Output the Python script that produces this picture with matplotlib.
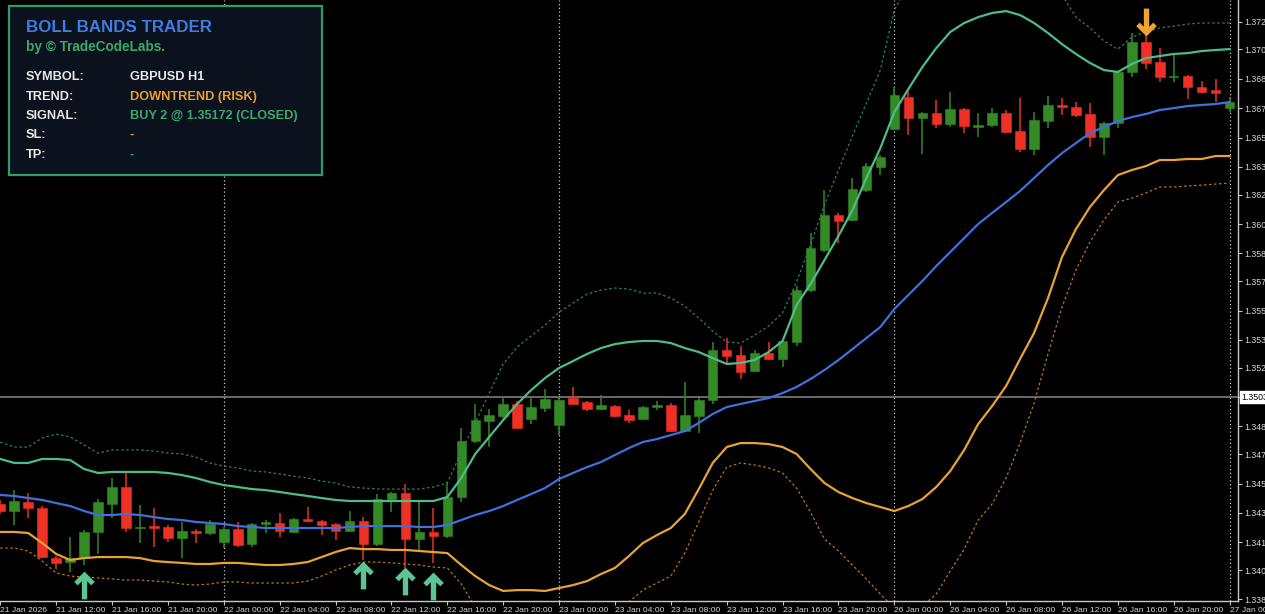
import numpy as np
import matplotlib
matplotlib.use("Agg")
import matplotlib.pyplot as plt
from matplotlib.path import Path
from matplotlib.patches import Rectangle
from matplotlib.transforms import blended_transform_factory

# GBPUSD H1, 21 Jan 08:00 -> 27 Jan 00:00 (89 bars)
opens = [1.34412, 1.34371, 1.34423, 1.34388, 1.34099, 1.34076, 1.34099, 1.34250, 1.34412, 1.34510,
         1.34273, 1.34284, 1.34279, 1.34215, 1.34255, 1.34244, 1.34192, 1.34267, 1.34180, 1.34296,
         1.34302, 1.34250, 1.34325, 1.34313, 1.34296, 1.34255, 1.34313, 1.34180, 1.34440, 1.34475,
         1.34209, 1.34250, 1.34227, 1.34452, 1.34776, 1.34891, 1.34920, 1.34990, 1.34903, 1.34966,
         1.34868, 1.35024, 1.35001, 1.34961, 1.34978, 1.34926, 1.34903, 1.34972, 1.34984, 1.34833,
         1.34920, 1.35013, 1.35302, 1.35273, 1.35180, 1.35284, 1.35250, 1.35348, 1.35648, 1.35880,
         1.36082, 1.36053, 1.36226, 1.36359, 1.36579, 1.36764, 1.36643, 1.36672, 1.36608, 1.36695,
         1.36591, 1.36602, 1.36672, 1.36567, 1.36463, 1.36625, 1.36718, 1.36706, 1.36666, 1.36533,
         1.36614, 1.36909, 1.37082, 1.36966, 1.36880, 1.36885, 1.36822, 1.36804, 1.36700]
highs = [1.34435, 1.34492, 1.34475, 1.34400, 1.34111, 1.34221, 1.34261, 1.34440, 1.34562, 1.34591,
         1.34406, 1.34388, 1.34290, 1.34308, 1.34267, 1.34319, 1.34279, 1.34308, 1.34302, 1.34319,
         1.34360, 1.34331, 1.34394, 1.34319, 1.34302, 1.34371, 1.34336, 1.34469, 1.34481, 1.34527,
         1.34423, 1.34388, 1.34539, 1.34851, 1.34990, 1.34961, 1.35030, 1.35007, 1.35030, 1.35076,
         1.35024, 1.35088, 1.35007, 1.35042, 1.34984, 1.34955, 1.34978, 1.35007, 1.34995, 1.35117,
         1.35024, 1.35348, 1.35371, 1.35325, 1.35302, 1.35348, 1.35359, 1.35672, 1.35978, 1.36226,
         1.36094, 1.36296, 1.36383, 1.36429, 1.36822, 1.36799, 1.36677, 1.36747, 1.36793, 1.36700,
         1.36672, 1.36700, 1.36689, 1.36758, 1.36677, 1.36770, 1.36758, 1.36735, 1.36729, 1.36620,
         1.36914, 1.37134, 1.37122, 1.37047, 1.37007, 1.36891, 1.36856, 1.36868, 1.36764]
lows = [1.34354, 1.34290, 1.34331, 1.34099, 1.34036, 1.34019, 1.34059, 1.34123, 1.34331, 1.34250,
        1.34186, 1.34163, 1.34192, 1.34099, 1.34186, 1.34232, 1.34157, 1.34163, 1.34163, 1.34244,
        1.34221, 1.34244, 1.34308, 1.34232, 1.34203, 1.34250, 1.34088, 1.34169, 1.34365, 1.34042,
        1.34146, 1.34071, 1.34215, 1.34423, 1.34764, 1.34741, 1.34909, 1.34845, 1.34874, 1.34943,
        1.34810, 1.34984, 1.34949, 1.34955, 1.34914, 1.34880, 1.34897, 1.34955, 1.34828, 1.34828,
        1.34822, 1.34990, 1.35227, 1.35134, 1.35175, 1.35244, 1.35203, 1.35325, 1.35637, 1.35868,
        1.35920, 1.36047, 1.36215, 1.36313, 1.36573, 1.36544, 1.36435, 1.36585, 1.36591, 1.36556,
        1.36533, 1.36591, 1.36556, 1.36446, 1.36429, 1.36585, 1.36660, 1.36648, 1.36475, 1.36429,
        1.36585, 1.36880, 1.36926, 1.36851, 1.36851, 1.36752, 1.36787, 1.36735, 1.36677]
closes = [1.34371, 1.34429, 1.34388, 1.34105, 1.34071, 1.34099, 1.34250, 1.34423, 1.34510, 1.34273,
          1.34279, 1.34273, 1.34215, 1.34255, 1.34244, 1.34296, 1.34267, 1.34175, 1.34296, 1.34308,
          1.34255, 1.34325, 1.34313, 1.34290, 1.34255, 1.34313, 1.34180, 1.34440, 1.34475, 1.34209,
          1.34250, 1.34227, 1.34452, 1.34776, 1.34897, 1.34926, 1.34990, 1.34851, 1.34972, 1.35018,
          1.35013, 1.34990, 1.34961, 1.34984, 1.34920, 1.34897, 1.34972, 1.34984, 1.34833, 1.34926,
          1.35013, 1.35302, 1.35267, 1.35175, 1.35284, 1.35250, 1.35354, 1.35648, 1.35891, 1.36082,
          1.36047, 1.36232, 1.36365, 1.36417, 1.36776, 1.36643, 1.36672, 1.36608, 1.36695, 1.36596,
          1.36602, 1.36672, 1.36562, 1.36463, 1.36631, 1.36718, 1.36706, 1.36660, 1.36533, 1.36614,
          1.36909, 1.37082, 1.36961, 1.36880, 1.36885, 1.36822, 1.36793, 1.36787, 1.36735]

# bollinger bands
upper_outer = [1.34770, 1.34741, 1.34741, 1.34793, 1.34816, 1.34799, 1.34753, 1.34706, 1.34724, 1.34724,
               1.34724, 1.34718, 1.34706, 1.34701, 1.34683, 1.34649, 1.34631, 1.34620, 1.34602, 1.34597,
               1.34585, 1.34573, 1.34562, 1.34544, 1.34533, 1.34510, 1.34504, 1.34498, 1.34498, 1.34498,
               1.34498, 1.34510, 1.34533, 1.34712, 1.34880, 1.35053, 1.35221, 1.35319, 1.35383, 1.35446,
               1.35521, 1.35573, 1.35625, 1.35648, 1.35660, 1.35654, 1.35631, 1.35631, 1.35602, 1.35556,
               1.35487, 1.35411, 1.35348, 1.35342, 1.35388, 1.35440, 1.35516, 1.35695, 1.35909, 1.36140,
               1.36342, 1.36539, 1.36729, 1.36920, 1.37267, 1.37411, 1.37556, 1.37677, 1.37776, 1.37810,
               1.37822, 1.37828, 1.37816, 1.37747, 1.37637, 1.37515, 1.37354, 1.37226, 1.37163, 1.37088,
               1.37041, 1.37111, 1.37140, 1.37163, 1.37174, 1.37186, 1.37192, 1.37192, 1.37192]
upper = [1.34672, 1.34649, 1.34649, 1.34672, 1.34672, 1.34666, 1.34614, 1.34591, 1.34597, 1.34597,
         1.34597, 1.34597, 1.34591, 1.34579, 1.34562, 1.34539, 1.34521, 1.34510, 1.34498, 1.34492,
         1.34481, 1.34469, 1.34458, 1.34446, 1.34435, 1.34429, 1.34429, 1.34429, 1.34429, 1.34429,
         1.34429, 1.34429, 1.34452, 1.34562, 1.34701, 1.34799, 1.34897, 1.34990, 1.35070, 1.35140,
         1.35198, 1.35238, 1.35279, 1.35313, 1.35336, 1.35348, 1.35354, 1.35354, 1.35342, 1.35313,
         1.35290, 1.35255, 1.35221, 1.35227, 1.35244, 1.35290, 1.35354, 1.35562, 1.35683, 1.35822,
         1.35961, 1.36111, 1.36296, 1.36469, 1.36677, 1.36810, 1.36937, 1.37047, 1.37140, 1.37192,
         1.37226, 1.37250, 1.37261, 1.37238, 1.37192, 1.37134, 1.37070, 1.37013, 1.36961, 1.36920,
         1.36909, 1.36955, 1.36989, 1.37001, 1.37013, 1.37018, 1.37030, 1.37036, 1.37041]
middle = [1.34464, 1.34458, 1.34446, 1.34435, 1.34417, 1.34400, 1.34371, 1.34348, 1.34348, 1.34354,
          1.34348, 1.34336, 1.34325, 1.34319, 1.34308, 1.34302, 1.34296, 1.34284, 1.34279, 1.34273,
          1.34273, 1.34273, 1.34273, 1.34273, 1.34273, 1.34279, 1.34284, 1.34284, 1.34284, 1.34284,
          1.34279, 1.34279, 1.34290, 1.34319, 1.34348, 1.34371, 1.34400, 1.34435, 1.34469, 1.34504,
          1.34556, 1.34591, 1.34625, 1.34654, 1.34695, 1.34735, 1.34770, 1.34787, 1.34810, 1.34833,
          1.34880, 1.34932, 1.34972, 1.34990, 1.35007, 1.35024, 1.35053, 1.35088, 1.35134, 1.35186,
          1.35244, 1.35307, 1.35371, 1.35435, 1.35539, 1.35620, 1.35700, 1.35787, 1.35868, 1.35949,
          1.36030, 1.36094, 1.36157, 1.36221, 1.36296, 1.36371, 1.36440, 1.36498, 1.36556, 1.36591,
          1.36625, 1.36648, 1.36666, 1.36689, 1.36700, 1.36712, 1.36718, 1.36724, 1.36735]
lower = [1.34250, 1.34250, 1.34244, 1.34186, 1.34123, 1.34088, 1.34099, 1.34105, 1.34105, 1.34105,
         1.34099, 1.34082, 1.34076, 1.34071, 1.34065, 1.34065, 1.34071, 1.34071, 1.34065, 1.34059,
         1.34059, 1.34065, 1.34076, 1.34105, 1.34134, 1.34157, 1.34151, 1.34151, 1.34146, 1.34146,
         1.34140, 1.34134, 1.34128, 1.34059, 1.33995, 1.33943, 1.33909, 1.33914, 1.33914, 1.33909,
         1.33926, 1.33943, 1.33966, 1.34007, 1.34042, 1.34111, 1.34186, 1.34232, 1.34273, 1.34354,
         1.34498, 1.34649, 1.34741, 1.34764, 1.34764, 1.34758, 1.34741, 1.34701, 1.34614, 1.34533,
         1.34481, 1.34446, 1.34417, 1.34394, 1.34371, 1.34400, 1.34440, 1.34510, 1.34602, 1.34724,
         1.34874, 1.34978, 1.35094, 1.35250, 1.35400, 1.35602, 1.35839, 1.36001, 1.36128, 1.36226,
         1.36313, 1.36342, 1.36365, 1.36400, 1.36400, 1.36406, 1.36406, 1.36423, 1.36423]
lower_outer = [1.34157, 1.34157, 1.34140, 1.34082, 1.34013, 1.33995, 1.33990, 1.33984, 1.33978, 1.33972,
               1.33972, 1.33966, 1.33961, 1.33949, 1.33943, 1.33949, 1.33961, 1.33961, 1.33955, 1.33955,
               1.33955, 1.33955, 1.33966, 1.33995, 1.34030, 1.34059, 1.34076, 1.34076, 1.34071, 1.34065,
               1.34059, 1.34047, 1.34042, 1.33949, 1.33816, 1.33730, 1.33660, 1.33654, 1.33637, 1.33614,
               1.33608, 1.33620, 1.33637, 1.33683, 1.33712, 1.33845, 1.33914, 1.33955, 1.33995, 1.34128,
               1.34308, 1.34492, 1.34625, 1.34649, 1.34637, 1.34620, 1.34591, 1.34504, 1.34365, 1.34209,
               1.34140, 1.34059, 1.33978, 1.33891, 1.33810, 1.33787, 1.33822, 1.33891, 1.34024, 1.34151,
               1.34319, 1.34412, 1.34562, 1.34764, 1.34995, 1.35279, 1.35550, 1.35764, 1.35926, 1.36053,
               1.36157, 1.36180, 1.36209, 1.36244, 1.36244, 1.36250, 1.36255, 1.36261, 1.36267]

time_labels = ["21 Jan 2026", "21 Jan 12:00", "21 Jan 16:00", "21 Jan 20:00",
               "22 Jan 00:00", "22 Jan 04:00", "22 Jan 08:00", "22 Jan 12:00", "22 Jan 16:00", "22 Jan 20:00",
               "23 Jan 00:00", "23 Jan 04:00", "23 Jan 08:00", "23 Jan 12:00", "23 Jan 16:00", "23 Jan 20:00",
               "26 Jan 00:00", "26 Jan 04:00", "26 Jan 08:00", "26 Jan 12:00", "26 Jan 16:00", "26 Jan 20:00",
               "27 Jan 00:00"]
day_starts = [16, 40, 64, 88]
price_labels = ["1.3720", "1.3704", "1.3687", "1.3670", "1.3653", "1.3636", "1.3620", "1.3603",
                "1.3586", "1.3570", "1.3553", "1.3536", "1.3520", "1.3503", "1.3486", "1.3470",
                "1.3453", "1.3436", "1.3419", "1.3403", "1.3386"]
level_price = 1.35030
level_label = "1.3503"

buy_bars = [6, 26, 29, 31]
buy_prices = [1.33943, 1.34001, 1.33966, 1.33938]
sell_bars = [82]
sell_prices = [1.37198]

GREEN = "#348a25"
RED = "#ee3124"

fig = plt.figure(figsize=(12.65, 6.14), dpi=100, facecolor="black")
ax = fig.add_axes([0, 13 / 614, 1238 / 1265, 601 / 614])
ax.set_facecolor("black")

x = np.arange(len(opens))
o = np.array(opens)
c = np.array(closes)
cols = [GREEN if cc >= oo else RED for oo, cc in zip(o, c)]

# separators and level line
for d in day_starts:
    ax.axvline(d, color="#c8c8c8", lw=0.9, ls=(0, (1, 2)), zorder=1)
ax.axhline(level_price, color="#7c7c7c", lw=1.2, zorder=1)

# candles
ax.vlines(x, lows, highs, colors=cols, lw=1.1, zorder=2)
ax.bar(x, np.abs(c - o), bottom=np.minimum(o, c), width=0.68, color=cols,
       edgecolor=cols, linewidth=0.4, zorder=3)

# bands
ax.plot(x, upper_outer, color="#2f8062", lw=0.9, ls=(0, (2, 2)), zorder=4)
ax.plot(x, lower_outer, color="#b87420", lw=0.9, ls=(0, (2, 2)), zorder=4)
ax.plot(x, upper, color="#4cbc8c", lw=1.6, zorder=5)
ax.plot(x, middle, color="#3f70dc", lw=1.6, zorder=5)
ax.plot(x, lower, color="#e9a235", lw=1.6, zorder=5)

# signal arrows (thick chevron with stem)
up_verts = [(0, 0.675), (0.5, 0.175), (0.33, 0.005), (0.13, 0.205), (0.13, -0.675),
            (-0.13, -0.675), (-0.13, 0.205), (-0.33, 0.005), (-0.5, 0.175), (0, 0.675)]
up_arrow = Path(up_verts, closed=True)
down_arrow = Path([(vx, -vy) for vx, vy in up_verts], closed=True)
ax.plot(buy_bars, buy_prices, ls="none", marker=up_arrow, markersize=20,
        color="#5cc596", markeredgewidth=0, zorder=6)
ax.plot(sell_bars, sell_prices, ls="none", marker=down_arrow, markersize=20,
        color="#f0a232", markeredgewidth=0, zorder=6)

ax.set_xlim(-0.02, 88.6)
ax.set_ylim(1.33851, 1.37325)

# axes styling
for side in ["left", "top"]:
    ax.spines[side].set_visible(False)
for side in ["right", "bottom"]:
    ax.spines[side].set_color("#c8c8c8")
    ax.spines[side].set_linewidth(1)

ax.yaxis.tick_right()
ax.set_yticks([float(p) for p in price_labels])
# the level price gets its own highlighted label below
ax.set_yticklabels(["" if p == level_label else p for p in price_labels])
ax.set_xticks(np.arange(0, 89, 4))
ax.set_xticklabels(time_labels)
ax.tick_params(axis="both", colors="#c8c8c8", labelcolor="#d8d8d8",
               length=3, width=0.8, direction="out", pad=1.5)
ax.tick_params(axis="x", labelsize=6.1)
ax.tick_params(axis="y", labelsize=6.3)
for lbl in ax.get_xticklabels():
    lbl.set_horizontalalignment("left")
    lbl.set_fontfamily("Liberation Sans")
for lbl in ax.get_yticklabels():
    lbl.set_fontfamily("Liberation Sans")

# highlighted level label
tr = blended_transform_factory(ax.transAxes, ax.transData)
ax.text(1.003, level_price, level_label, transform=tr, ha="left", va="center",
        fontsize=6.3, family="Liberation Sans", color="black", clip_on=False,
        bbox=dict(boxstyle="square,pad=0.15", facecolor="white", edgecolor="white"), zorder=7)

# info panel
fig.add_artist(Rectangle((9 / 1265, 1 - 175 / 614), 313 / 1265, 169 / 614,
                         transform=fig.transFigure, facecolor="#0b111d",
                         edgecolor="#2e9c69", lw=1.6, zorder=10))
fx = 26 / 1265
vx = 130 / 1265
fig.text(fx, 1 - 27 / 614, "BOLL BANDS TRADER", color="#3f7de3", fontsize=12.2,
         fontweight="bold", family="Liberation Sans", va="center", zorder=11)
fig.text(fx, 1 - 47 / 614, "by \u00a9 TradeCodeLabs.", color="#3aa86a", fontsize=9.8,
         fontweight="bold", family="Liberation Sans", va="center", zorder=11)
rows = [("SYMBOL:", "GBPUSD H1", "#e8e8e8"),
        ("TREND:", "DOWNTREND (RISK)", "#e8a030"),
        ("SIGNAL:", "BUY 2 @ 1.35172 (CLOSED)", "#3aa86a"),
        ("SL:", "-", "#e8a030"),
        ("TP:", "-", "#3aa86a")]
row_y = [77, 97, 116, 135, 155]
for (name, val, col), ry in zip(rows, row_y):
    fig.text(fx, 1 - ry / 614, name, color="#e8e8e8", fontsize=9.2, fontweight="bold",
             family="Liberation Sans", va="center", zorder=11)
    fig.text(vx, 1 - ry / 614, val, color=col, fontsize=9.2, fontweight="bold",
             family="Liberation Sans", va="center", zorder=11)

fig.savefig("out.png", dpi=100, facecolor="black")
